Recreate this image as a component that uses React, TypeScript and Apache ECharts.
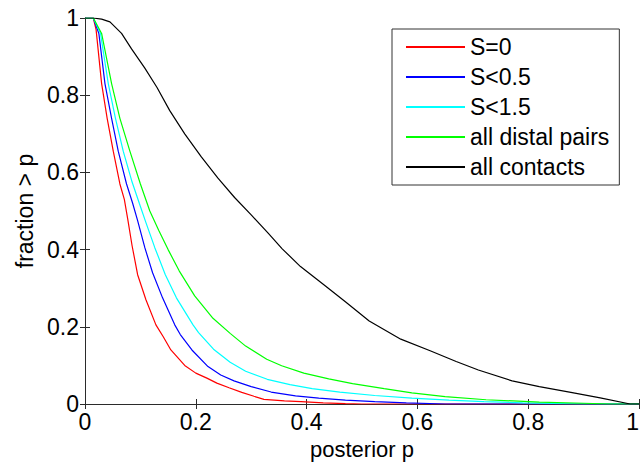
import React, { useEffect, useRef } from "react";
import * as echarts from "echarts";

const seriesNames = ["S=0", "S<0.5", "S<1.5", "all distal pairs", "all contacts"];
const seriesColors = ["#ff0000", "#0000ff", "#00ffff", "#00ff00", "#000000"];

const redS0: number[][] = [
  [0, 1], [0.015, 1], [0.02, 0.97], [0.03, 0.83], [0.04, 0.74], [0.051, 0.655],
  [0.063, 0.57], [0.071, 0.53], [0.077, 0.48], [0.085, 0.41], [0.095, 0.335],
  [0.11, 0.27], [0.128, 0.205], [0.141, 0.175], [0.155, 0.14], [0.18, 0.1],
  [0.2, 0.08], [0.22, 0.067], [0.238, 0.054], [0.26, 0.042], [0.283, 0.03],
  [0.305, 0.02], [0.323, 0.012], [0.36, 0.008], [0.39, 0.006], [0.43, 0.003],
  [0.47, 0.001], [0.5, 0], [1, 0],
];
const blueS05: number[][] = [
  [0, 1], [0.015, 1], [0.025, 0.96], [0.036, 0.83], [0.048, 0.74], [0.06, 0.655],
  [0.075, 0.57], [0.086, 0.52], [0.095, 0.475], [0.108, 0.405], [0.122, 0.34],
  [0.14, 0.275], [0.162, 0.205], [0.172, 0.18], [0.193, 0.14], [0.222, 0.097],
  [0.245, 0.075], [0.269, 0.06], [0.3, 0.045], [0.336, 0.031], [0.38, 0.021],
  [0.422, 0.015], [0.47, 0.01], [0.523, 0.006], [0.58, 0.003], [0.65, 0], [1, 0],
];
const cyanS15: number[][] = [
  [0, 1], [0.015, 1], [0.028, 0.96], [0.042, 0.83], [0.055, 0.74], [0.069, 0.655],
  [0.085, 0.575], [0.098, 0.52], [0.11, 0.47], [0.126, 0.405], [0.145, 0.335],
  [0.165, 0.275], [0.195, 0.205], [0.205, 0.185], [0.232, 0.142], [0.262, 0.108],
  [0.29, 0.085], [0.329, 0.064], [0.37, 0.05], [0.41, 0.04], [0.46, 0.031],
  [0.523, 0.022], [0.59, 0.015], [0.657, 0.01], [0.72, 0.006], [0.79, 0.003],
  [0.9, 0], [1, 0],
];
const greenDistal: number[][] = [
  [0, 1], [0.015, 1], [0.03, 0.96], [0.048, 0.83], [0.063, 0.74], [0.081, 0.655],
  [0.1, 0.57], [0.117, 0.5], [0.133, 0.45], [0.15, 0.4], [0.17, 0.345],
  [0.198, 0.28], [0.231, 0.222], [0.262, 0.183], [0.29, 0.15], [0.328, 0.116],
  [0.355, 0.099], [0.395, 0.08], [0.44, 0.065], [0.483, 0.053], [0.54, 0.04],
  [0.59, 0.029], [0.65, 0.019], [0.724, 0.011], [0.82, 0.005], [0.9, 0.002],
  [0.95, 0], [1, 0],
];
const blackContacts: number[][] = [
  [0, 1], [0.015, 1], [0.03, 0.997], [0.045, 0.99], [0.066, 0.96], [0.084, 0.92],
  [0.108, 0.87], [0.13, 0.82], [0.153, 0.76], [0.18, 0.7], [0.21, 0.64],
  [0.24, 0.585], [0.27, 0.535], [0.3, 0.49], [0.331, 0.442], [0.356, 0.402],
  [0.389, 0.356], [0.43, 0.31], [0.47, 0.265], [0.513, 0.215], [0.57, 0.168],
  [0.623, 0.138], [0.67, 0.11], [0.71, 0.088], [0.771, 0.06], [0.82, 0.045],
  [0.877, 0.03], [0.93, 0.016], [0.984, 0], [1, 0],
];

const allData = [redS0, blueS05, cyanS15, greenDistal, blackContacts];

const xTicks = { min: 0, max: 1, interval: 0.2 };
const yTicks = { min: 0, max: 1, interval: 0.2 };
const xName = "posterior p";
const yName = "fraction > p";

const FONT = "'Liberation Sans', Arial, Helvetica, sans-serif";
const AXIS_COLOR = "#2b2b2b";

export default function App() {
  const ref = useRef<HTMLDivElement>(null);
  useEffect(() => {
    if (!ref.current) return;
    const chart = echarts.init(ref.current, undefined, { renderer: "svg" });
    const hiddenAxisCommon = {
      axisLine: { show: true, lineStyle: { color: AXIS_COLOR, width: 1 } },
      axisTick: { show: true, inside: true, length: 5, lineStyle: { color: AXIS_COLOR } },
      axisLabel: { show: false },
      splitLine: { show: false },
    };
    chart.setOption({
      animation: false,
      backgroundColor: "#ffffff",
      textStyle: { fontFamily: FONT },
      grid: {
        left: 85,
        right: 2,
        top: 18,
        bottom: 61,
        containLabel: false,
        outerBoundsMode: "none",
      },
      legend: {
        show: true,
        orient: "vertical",
        left: 392,
        top: 29,
        padding: [6, 10, 6, 13],
        itemWidth: 59,
        itemHeight: 24,
        itemGap: 6,
        borderColor: "#333333",
        borderWidth: 1,
        backgroundColor: "#ffffff",
        itemStyle: { opacity: 0 },
        textStyle: { fontFamily: FONT, fontSize: 23, color: "#000", lineHeight: 24 },
        data: seriesNames,
      },
      xAxis: [
        {
          type: "value",
          position: "bottom",
          ...xTicks,
          name: xName,
          nameLocation: "middle",
          nameGap: 34,
          nameTextStyle: { fontFamily: FONT, fontSize: 22, color: "#000" },
          axisLine: { show: true, onZero: false, lineStyle: { color: AXIS_COLOR, width: 1 } },
          axisTick: { show: true, inside: true, length: 5, lineStyle: { color: AXIS_COLOR } },
          axisLabel: {
            show: true,
            fontFamily: FONT,
            fontSize: 23,
            color: "#000",
            margin: 6,
            alignMaxLabel: "right",
          },
          splitLine: { show: false },
        },
        {
          type: "value",
          position: "top",
          ...xTicks,
          ...hiddenAxisCommon,
        },
      ],
      yAxis: [
        {
          type: "value",
          position: "left",
          ...yTicks,
          name: yName,
          nameLocation: "middle",
          nameGap: 48,
          nameTextStyle: { fontFamily: FONT, fontSize: 23, color: "#000" },
          axisLine: { show: true, onZero: false, lineStyle: { color: AXIS_COLOR, width: 1 } },
          axisTick: { show: true, inside: true, length: 5, lineStyle: { color: AXIS_COLOR } },
          axisLabel: { show: true, fontFamily: FONT, fontSize: 23, color: "#000", margin: 6 },
          splitLine: { show: false },
        },
        {
          type: "value",
          position: "right",
          ...yTicks,
          ...hiddenAxisCommon,
        },
      ],
      series: seriesNames.map((name, i) => ({
        name,
        type: "line",
        xAxisIndex: 0,
        yAxisIndex: 0,
        data: allData[i],
        symbol: "none",
        showSymbol: false,
        smooth: false,
        clip: true,
        lineStyle: { color: seriesColors[i], width: 1.2 },
        itemStyle: { color: seriesColors[i] },
      })),
    });
    return () => chart.dispose();
  }, []);
  return (
    <div
      ref={ref}
      style={{ position: "fixed", left: 0, top: 0, width: 641, height: 465, background: "#fff" }}
    />
  );
}
